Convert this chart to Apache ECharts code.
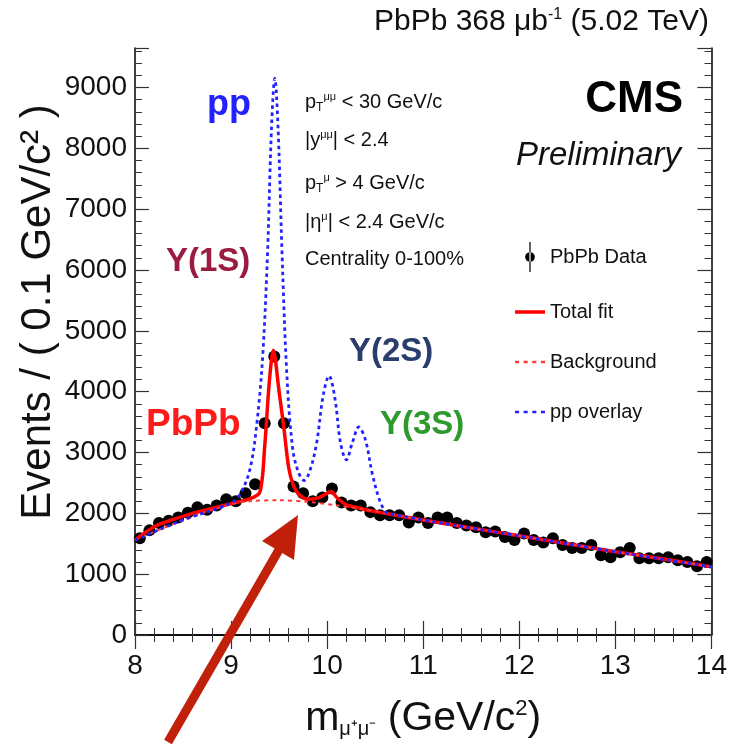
<!DOCTYPE html>
<html lang="en">
<head>
    <meta charset="UTF-8">
    <title>Upsilon PbPb</title>
    <script src="https://cdn.jsdelivr.net/npm/echarts@6/dist/echarts.min.js"></script>
    <style>
        html, body { margin: 0; padding: 0; background: #fff; }
        #charts { width: 730px; height: 750px; }
    </style>
</head>
<body>
<div id="charts"></div>
<script>
    // PbPb data points (bin centres, 0.1 GeV bins)
    var dataX = [8.05, 8.15, 8.25, 8.35, 8.45, 8.55, 8.65, 8.75, 8.85, 8.95,
        9.05, 9.15, 9.25, 9.35, 9.45, 9.55, 9.65, 9.75, 9.85, 9.95,
        10.05, 10.15, 10.25, 10.35, 10.45, 10.55, 10.65, 10.75, 10.85, 10.95,
        11.05, 11.15, 11.25, 11.35, 11.45, 11.55, 11.65, 11.75, 11.85, 11.95,
        12.05, 12.15, 12.25, 12.35, 12.45, 12.55, 12.65, 12.75, 12.85, 12.95,
        13.05, 13.15, 13.25, 13.35, 13.45, 13.55, 13.65, 13.75, 13.85, 13.95];
    var dataY = [1590, 1720, 1840, 1880, 1930, 2010, 2100, 2060, 2130, 2230,
        2200, 2330, 2480, 3480, 4580, 3480, 2440, 2330, 2200, 2260,
        2410, 2180, 2130, 2130, 2020, 1970, 1970, 1970, 1850, 1930,
        1840, 1930, 1930, 1840, 1800, 1770, 1690, 1700, 1610, 1560,
        1670, 1560, 1520, 1590, 1480, 1430, 1430, 1480, 1310, 1280,
        1360, 1430, 1260, 1260, 1260, 1280, 1230, 1200, 1130, 1200];

    // total fit
    var fitX = [8.0, 8.2, 8.4, 8.6, 8.8, 9.0, 9.2, 9.3, 9.35, 9.4, 9.44, 9.5, 9.55, 9.6, 9.65, 9.7,
        9.8, 9.9, 10.0, 10.04, 10.1, 10.2, 10.3, 10.4, 10.5, 10.6, 11.0, 11.5, 12.0, 12.5, 13.0, 13.5, 14.0];
    var fitY = [1560, 1780, 1900, 2000, 2080, 2160, 2240, 2350, 3100, 4200, 4680, 4000, 3400, 2750, 2450, 2320,
        2230, 2250, 2330, 2360, 2260, 2140, 2100, 2060, 2030, 2000, 1890, 1760, 1630, 1500, 1370, 1250, 1120];

    // background
    var bkgX = [8.0, 8.5, 9.0, 9.2, 9.5, 9.8, 10.1, 10.4, 10.7, 11.0, 12.0, 13.0, 14.0];
    var bkgY = [1560, 1890, 2150, 2200, 2215, 2190, 2130, 2060, 1980, 1890, 1630, 1370, 1120];

    // pp overlay
    var ppX = [8.0, 8.5, 9.0, 9.1, 9.2, 9.27, 9.33, 9.38, 9.42, 9.455, 9.49, 9.53, 9.58, 9.64, 9.7,
        9.76, 9.82, 9.89, 9.96, 10.02, 10.08, 10.14, 10.2, 10.26, 10.33, 10.4, 10.47, 10.55, 10.62,
        10.7, 11.0, 12.0, 13.0, 14.0];
    var ppY = [1560, 1890, 2170, 2330, 2750, 3500, 4600, 6300, 8300, 9150, 8300, 6300, 4300, 3080, 2680,
        2540, 2700, 3150, 3950, 4260, 3900, 3150, 2880, 3150, 3420, 3200, 2650, 2200, 2010,
        1980, 1890, 1630, 1370, 1120];

    var xTicks = [8, 9, 10, 11, 12, 13, 14];
    var yTicks = [0, 1000, 2000, 3000, 4000, 5000, 6000, 7000, 8000, 9000];

    var font = 'Liberation Sans, Arial, Helvetica, sans-serif';

    function pairs(xs, ys) {
        return xs.map(function (x, i) { return [x, ys[i]]; });
    }

    var myChart = echarts.init(document.getElementById('charts'));

    var axisLine = { show: true, lineStyle: { color: '#000', width: 1.5 } };
    var tick = { show: true, inside: true, length: 14, lineStyle: { color: '#333', width: 1.2 } };
    var minor = { show: true, splitNumber: 5, length: 7, lineStyle: { color: '#333', width: 1 } };

    function xAx(pos, labels) {
        return {
            type: 'value', position: pos, min: xTicks[0], max: xTicks[xTicks.length - 1], interval: 1,
            axisLine: axisLine, axisTick: tick, minorTick: minor, splitLine: { show: false },
            axisLabel: { show: labels, fontSize: 28, color: '#111', fontFamily: font, margin: 17 }
        };
    }
    function yAx(pos, labels) {
        return {
            type: 'value', position: pos, min: yTicks[0], max: 9650, interval: 1000,
            axisLine: axisLine, axisTick: tick, minorTick: minor, splitLine: { show: false },
            axisLabel: {
                show: labels, fontSize: 28, color: '#111', fontFamily: font, margin: 8, showMaxLabel: false,
                formatter: function (v) { return String(v); }
            }
        };
    }

    var xa = xAx('bottom', true);
    xa.name = '{m|m}{s|\u03bc\u207a\u03bc\u207b}{m| (GeV/c}{p|2}{m|)}';
    xa.nameLocation = 'middle';
    xa.nameGap = 63;
    xa.nameTextStyle = {
        rich: {
            m: { fontSize: 41, fontFamily: font, color: '#111' },
            s: { fontSize: 20, fontFamily: font, color: '#111', verticalAlign: 'bottom', padding: [17, 0, 0, 0] },
            p: { fontSize: 22, fontFamily: font, color: '#111', verticalAlign: 'top', padding: [0, 0, 15, 0] }
        }
    };

    var option = {
        animation: false,
        backgroundColor: '#fff',
        title: {
            text: '{a|PbPb 368 }{m|\u03bcb}{s|-1}{a| (5.02 TeV)}',
            right: 16, top: 2,
            textStyle: {
                fontWeight: 'normal',
                rich: {
                    a: { fontSize: 30, fontFamily: font, color: '#111', fontWeight: 'normal' },
                    m: { fontSize: 30, fontFamily: font, color: '#111', fontWeight: 'normal' },
                    s: { fontSize: 16, fontFamily: font, color: '#111', fontWeight: 'normal', verticalAlign: 'top', padding: [0, 0, 14, 0] }
                }
            }
        },
        grid: { left: 135, right: 17, top: 48, bottom: 115 },
        xAxis: [xa, xAx('top', false)],
        yAxis: [yAx('left', true), yAx('right', false)],
        legend: {
            orient: 'vertical', left: 510, top: 237,
            itemWidth: 30, itemHeight: 30, itemGap: 30,
            textStyle: { fontSize: 20, fontFamily: font, color: '#111' },
            data: [
                { name: 'PbPb Data', icon: 'path://M4.3,0h1.4v34h-1.4z M5,11.5a5.5,5.5 0 1,0 0.01,0z' },
                { name: 'Total fit', icon: 'path://M0,0h30v3.5h-30z' },
                { name: 'Background', icon: 'path://M0,0h4v2.4h-4z M8.5,0h4v2.4h-4z M17,0h4v2.4h-4z M25.5,0h4v2.4h-4z' },
                { name: 'pp overlay', icon: 'path://M0,0h4v2.4h-4z M8.5,0h4v2.4h-4z M17,0h4v2.4h-4z M25.5,0h4v2.4h-4z' }
            ]
        },
        series: [
            {
                name: 'PbPb Data', type: 'scatter', z: 2,
                symbol: 'circle', symbolSize: 12,
                itemStyle: { color: '#000', opacity: 1 },
                data: pairs(dataX, dataY)
            },
            {
                name: 'Total fit', type: 'line', z: 3, smooth: 0.3, symbol: 'none',
                lineStyle: { color: '#ff0000', width: 3.5 },
                itemStyle: { color: '#ff0000' },
                data: pairs(fitX, fitY)
            },
            {
                name: 'Background', type: 'line', z: 4, smooth: 0.3, symbol: 'none',
                lineStyle: { color: '#ff3a3a', width: 2, type: [4, 4] },
                itemStyle: { color: '#ff3a3a' },
                data: pairs(bkgX, bkgY)
            },
            {
                name: 'pp overlay', type: 'line', z: 5, smooth: 0.35, symbol: 'none',
                lineStyle: { color: '#2222ff', width: 2.8, type: [3.5, 3.5] },
                itemStyle: { color: '#2222ff' },
                data: pairs(ppX, ppY)
            }
        ],
        graphic: [
            // y axis title
            {
                type: 'text', x: 38, y: 312, rotation: Math.PI / 2,
                style: {
                    text: 'Events / ( 0.1 GeV/c\u00b2 )', font: '42px ' + font, fill: '#111',
                    align: 'center', verticalAlign: 'middle'
                }
            },
            { type: 'text', left: 207, top: 87, style: { text: 'pp', font: 'bold 36px ' + font, fill: '#2222ff' } },
            { type: 'text', left: 166, top: 245, style: { text: '\u03a5(1S)', font: 'bold 33px ' + font, fill: '#9a1c40' } },
            { type: 'text', left: 146, top: 406, style: { text: 'PbPb', font: 'bold 37px ' + font, fill: '#ff1a1a' } },
            { type: 'text', left: 349, top: 335, style: { text: '\u03a5(2S)', font: 'bold 33px ' + font, fill: '#2a3d6c' } },
            { type: 'text', left: 380, top: 408, style: { text: '\u03a5(3S)', font: 'bold 33px ' + font, fill: '#2e9a2e' } },
            {
                type: 'text', left: 305, top: 91,
                style: {
                    text: '{t|p}{b|T}{u|\u03bc\u03bc}{t| < 30 GeV/c}',
                    rich: {
                        t: { font: '20px ' + font, fill: '#111' },
                        b: { font: '12px ' + font, fill: '#111', verticalAlign: 'bottom', padding: [11, 0, 0, 0] },
                        u: { font: '11px ' + font, fill: '#111', verticalAlign: 'top', padding: [0, 0, 11, 0] }
                    }
                }
            },
            {
                type: 'text', left: 305, top: 129,
                style: {
                    text: '{t||y}{u|\u03bc\u03bc}{t|| < 2.4}',
                    rich: {
                        t: { font: '20px ' + font, fill: '#111' },
                        u: { font: '11px ' + font, fill: '#111', verticalAlign: 'top', padding: [0, 0, 11, 0] }
                    }
                }
            },
            {
                type: 'text', left: 305, top: 172,
                style: {
                    text: '{t|p}{b|T}{u|\u03bc}{t| > 4 GeV/c}',
                    rich: {
                        t: { font: '20px ' + font, fill: '#111' },
                        b: { font: '12px ' + font, fill: '#111', verticalAlign: 'bottom', padding: [11, 0, 0, 0] },
                        u: { font: '11px ' + font, fill: '#111', verticalAlign: 'top', padding: [0, 0, 11, 0] }
                    }
                }
            },
            {
                type: 'text', left: 305, top: 211,
                style: {
                    text: '{t||\u03b7}{u|\u03bc}{t|| < 2.4 GeV/c}',
                    rich: {
                        t: { font: '20px ' + font, fill: '#111' },
                        u: { font: '11px ' + font, fill: '#111', verticalAlign: 'top', padding: [0, 0, 11, 0] }
                    }
                }
            },
            { type: 'text', left: 305, top: 249, style: { text: 'Centrality 0-100%', font: '20px ' + font, fill: '#111' } },
            { type: 'text', right: 47, top: 78, style: { text: 'CMS', font: 'bold 44px ' + font, fill: '#000' } },
            { type: 'text', right: 49, top: 139, style: { text: 'Preliminary', font: 'italic 33px ' + font, fill: '#111' } },
            // annotation arrow
            {
                type: 'line', z: 100,
                shape: { x1: 168, y1: 742, x2: 280, y2: 548 },
                style: { stroke: '#c1200b', lineWidth: 9 }
            },
            {
                type: 'polygon', z: 100,
                shape: { points: [[298, 515], [294, 560], [262, 541]] },
                style: { fill: '#c1200b' }
            }
        ]
    };

    myChart.setOption(option);
</script>
</body>
</html>
